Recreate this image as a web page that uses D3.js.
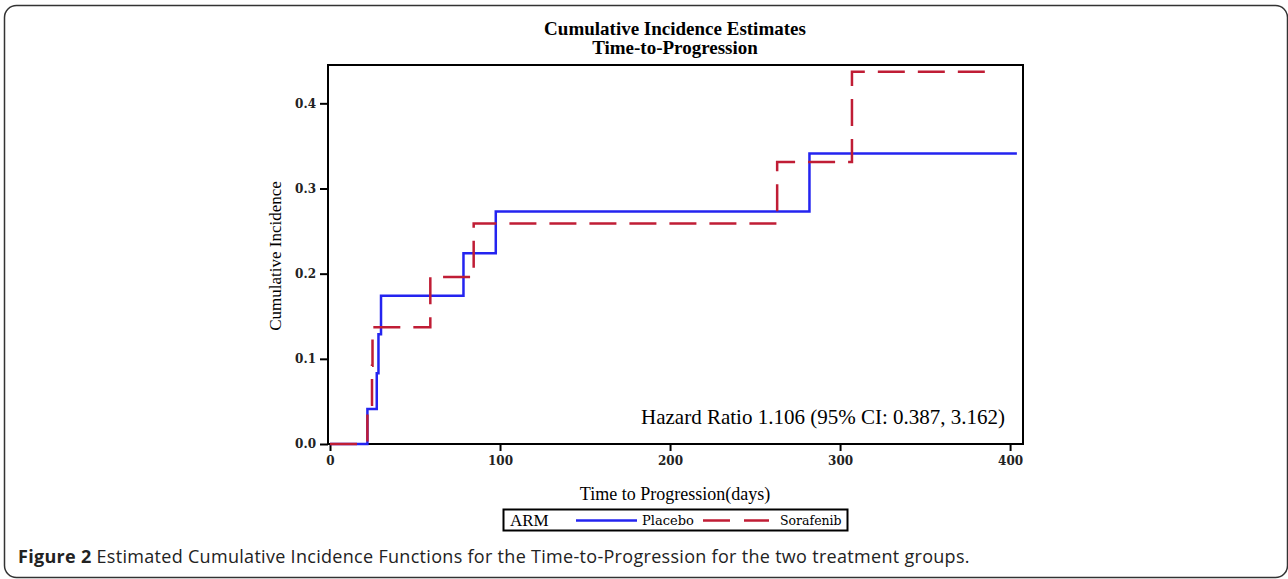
<!DOCTYPE html>
<html>
  <head>
    <meta charset="utf-8">
    <title>Cumulative Incidence Estimates</title>
    <script src="https://cdn.jsdelivr.net/npm/d3@7"></script>
    <style>
      body { margin: 0; background: #fff; }
      svg { display: block; }
      .serif { font-family: "Liberation Serif", "Times New Roman", serif; fill: #000; }
      .tick text { font-family: "DejaVu Serif", serif; font-size: 12px; font-weight: bold; fill: #222; }
      .tick line { stroke: #000; stroke-width: 2; }
    </style>
  </head>
  <body>
    <svg id="chart" width="1288" height="579"></svg>

    <script>
      // data
      placeboTime = [0, 22, 27.5, 28.5, 30, 78.5, 97.5, 282, 404];
      placeboCI = [0, 0.041, 0.083, 0.129, 0.174, 0.224, 0.273, 0.341, 0.341];
      sorafenibTime = [0, 22, 24.7, 25, 59, 84.5, 263, 307, 389];
      sorafenibCI = [0, 0.046, 0.092, 0.137, 0.196, 0.259, 0.331, 0.437, 0.437];
      xTicks = [0, 100, 200, 300, 400];
      yTicks = [0, 0.1, 0.2, 0.3, 0.4];
      armNames = ["Placebo", "Sorafenib"];

      svg = d3.select("#chart");

      // outer panel
      svg.append("rect")
        .attr("x", 4.5)
        .attr("y", 5.5)
        .attr("width", 1283)
        .attr("height", 572)
        .attr("rx", 12)
        .style("fill", "none")
        .style("stroke", "#333")
        .style("stroke-width", 1.5);

      plot = { left: 328, right: 1023, top: 65, bottom: 444 };

      x = d3.scaleLinear()
        .domain([-1.18, 407.6])
        .range([plot.left, plot.right]);
      y = d3.scaleLinear()
        .domain([0, 0.445])
        .range([plot.bottom, plot.top]);

      // axes
      svg.append("g")
        .attr("transform", "translate(" + plot.left + ",0)")
        .call(d3.axisLeft(y).tickValues(yTicks).tickFormat(d3.format(".1f")).tickSize(8).tickSizeOuter(0).tickPadding(4))
        .call(function(g) { g.select(".domain").remove(); });
      svg.append("g")
        .attr("transform", "translate(0," + plot.bottom + ")")
        .call(d3.axisBottom(x).tickValues(xTicks).tickFormat(d3.format("d")).tickSize(7).tickSizeOuter(0).tickPadding(5))
        .call(function(g) { g.select(".domain").remove(); });

      // frame
      svg.append("rect")
        .attr("x", plot.left)
        .attr("y", plot.top)
        .attr("width", plot.right - plot.left)
        .attr("height", plot.bottom - plot.top)
        .style("fill", "none")
        .style("stroke", "#000")
        .style("stroke-width", 2);

      // step lines
      line = d3.line()
        .x(function(d) { return x(d[0]); })
        .y(function(d) { return y(d[1]); })
        .curve(d3.curveStepAfter);

      svg.append("path")
        .datum(d3.zip(placeboTime, placeboCI))
        .attr("d", line)
        .style("fill", "none")
        .style("stroke", "#2424f0")
        .style("stroke-width", 2.5);
      svg.append("path")
        .datum(d3.zip(sorafenibTime, sorafenibCI))
        .attr("d", line)
        .style("fill", "none")
        .style("stroke", "#c01d35")
        .style("stroke-width", 2.5)
        .style("stroke-dasharray", "27,13");

      // titles
      svg.append("text")
        .attr("class", "serif")
        .attr("x", 675)
        .attr("y", 35)
        .attr("text-anchor", "middle")
        .style("font-weight", "bold")
        .style("font-size", "19px")
        .text("Cumulative Incidence Estimates");
      svg.append("text")
        .attr("class", "serif")
        .attr("x", 675)
        .attr("y", 54)
        .attr("text-anchor", "middle")
        .style("font-weight", "bold")
        .style("font-size", "19px")
        .text("Time-to-Progression");

      svg.append("text")
        .attr("class", "serif")
        .attr("transform", "translate(281,256) rotate(-90)")
        .attr("text-anchor", "middle")
        .style("font-size", "17px")
        .text("Cumulative Incidence");
      svg.append("text")
        .attr("class", "serif")
        .attr("x", 675)
        .attr("y", 500)
        .attr("text-anchor", "middle")
        .style("font-size", "18px")
        .text("Time to Progression(days)");

      svg.append("text")
        .attr("class", "serif")
        .attr("x", 1005)
        .attr("y", 424)
        .attr("text-anchor", "end")
        .style("font-size", "21px")
        .text("Hazard Ratio 1.106 (95% CI: 0.387, 3.162)");

      // legend
      legend = svg.append("g");
      legend.append("rect")
        .attr("x", 503.5)
        .attr("y", 509.5)
        .attr("width", 344)
        .attr("height", 21)
        .style("fill", "#fff")
        .style("stroke", "#000")
        .style("stroke-width", 2);
      legend.append("text")
        .attr("class", "serif")
        .attr("x", 510)
        .attr("y", 526)
        .style("font-size", "17px")
        .text("ARM");
      legend.append("line")
        .attr("x1", 576).attr("x2", 637)
        .attr("y1", 520.5).attr("y2", 520.5)
        .style("stroke", "#2424f0")
        .style("stroke-width", 2.5);
      legend.append("text")
        .attr("class", "serif")
        .attr("x", 642)
        .attr("y", 525)
        .style("font-family", "DejaVu Serif")
        .style("font-size", "13px")
        .text(armNames[0]);
      legend.append("line")
        .attr("x1", 703).attr("x2", 769)
        .attr("y1", 520.5).attr("y2", 520.5)
        .style("stroke", "#c01d35")
        .style("stroke-width", 2.5)
        .style("stroke-dasharray", "27,14");
      legend.append("text")
        .attr("class", "serif")
        .attr("x", 780)
        .attr("y", 525)
        .style("font-family", "DejaVu Serif")
        .style("font-size", "12.5px")
        .text(armNames[1]);

      // caption
      caption = svg.append("text")
        .attr("x", 18)
        .attr("y", 563)
        .style("font-family", "'Open Sans', sans-serif")
        .style("font-size", "18px")
        .style("letter-spacing", "0.3px")
        .style("fill", "#222");
      caption.append("tspan")
        .style("font-weight", "bold")
        .text("Figure 2");
      caption.append("tspan")
        .text(" Estimated Cumulative Incidence Functions for the Time-to-Progression for the two treatment groups.");
    </script>
  </body>
</html>
